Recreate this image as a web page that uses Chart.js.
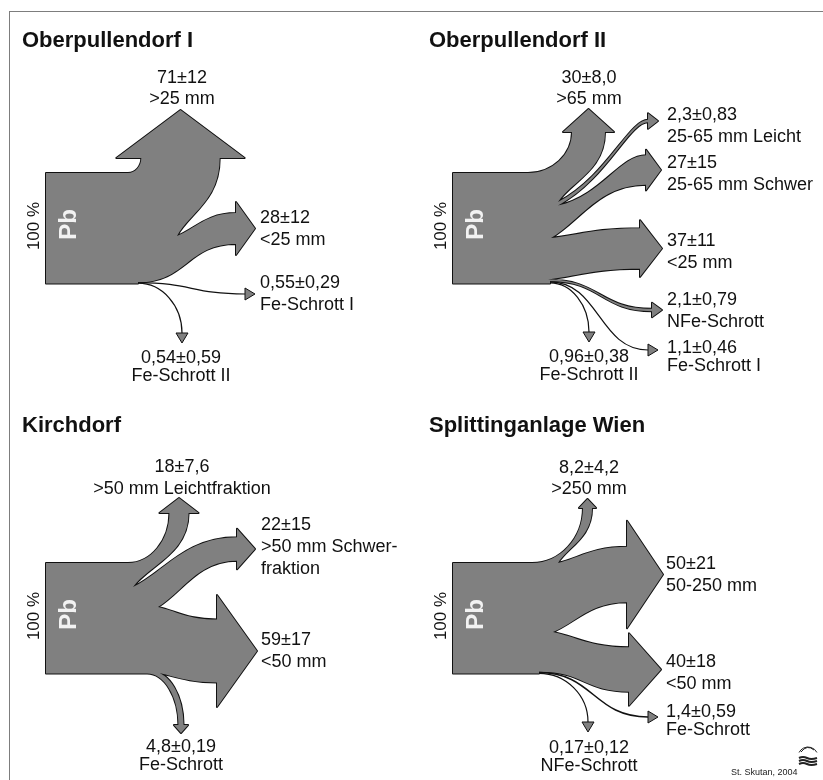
<!DOCTYPE html>
<html>
<head>
<meta charset="utf-8">
<title>Pb-Verteilung auf die Fraktionen</title>
<script src="https://cdn.jsdelivr.net/npm/chart.js@4.4.1/dist/chart.umd.min.js"></script>
<style>
  body { margin: 0; background: #fff; width: 823px; height: 780px; overflow: hidden; position: relative; }
  #frame { position: absolute; left: 9px; top: 11px; right: 0; bottom: 0; border-top: 1px solid #7d7d7d; border-left: 1px solid #7d7d7d; }
  .panel { position: absolute; width: 416px; height: 390px; }
</style>
</head>
<body>
<div id="frame"></div>
<div class="panel" style="left:0;top:0"><canvas id="p1"></canvas></div>
<div class="panel" style="left:407px;top:0"><canvas id="p2"></canvas></div>
<div class="panel" style="left:0;top:390px"><canvas id="p3"></canvas></div>
<div class="panel" style="left:407px;top:390px"><canvas id="p4"></canvas></div>
<script>
// Pb-Anteile (% der Eingangsfracht) je Fraktion, Mittelwert und Schwankung
const panelTitles = ['Oberpullendorf I', 'Oberpullendorf II', 'Kirchdorf', 'Splittinganlage Wien'];

const ober1Fractions = ['>25 mm', '<25 mm', 'Fe-Schrott I', 'Fe-Schrott II'];
const ober1Shares = [71, 28, 0.55, 0.54];
const ober1Errors = [12, 12, 0.29, 0.59];

const ober2Fractions = ['>65 mm', '25-65 mm Leicht', '25-65 mm Schwer', '<25 mm', 'NFe-Schrott', 'Fe-Schrott I', 'Fe-Schrott II'];
const ober2Shares = [30, 2.3, 27, 37, 2.1, 1.1, 0.96];
const ober2Errors = [8.0, 0.83, 15, 11, 0.79, 0.46, 0.38];

const kirchFractions = ['>50 mm Leichtfraktion', '>50 mm Schwer-\nfraktion', '<50 mm', 'Fe-Schrott'];
const kirchShares = [18, 22, 59, 4.8];
const kirchErrors = [7.6, 15, 17, 0.19];

const wienFractions = ['>250 mm', '50-250 mm', '<50 mm', 'Fe-Schrott', 'NFe-Schrott'];
const wienShares = [8.2, 50, 40, 1.4, 0.17];
const wienErrors = [4.2, 21, 18, 0.59, 0.12];

// Layout (Achseneinheiten), nur Lage und Form der Pfeile
const SRC_LEFT = 46, SRC_TOP = 173, SRC_H = 110.5;
const PANEL_W = 416, PANEL_H = 390;
const FILL = '#808080', INK = '#111';
const FONT = '"Liberation Sans", Arial, sans-serif';
const DIRS = { right: [1, 0], up: [0, -1], down: [0, 1] };

const ober1Layout = {
  titleY: 47, sxTop: 128, sxBot: 138, forks: [[177, 236]],
  flows: [
    { dir: 'up', ex: 180.5, ey: 158, ext: 25, hl: 48, lx: 182, ly: 83, align: 'center', gap: 21 },
    { dir: 'right', ex: 236, ey: 228.5, ext: 11, hl: 19, lx: 260, ly: 223, align: 'left', gap: 22 },
    { dir: 'right', ex: 245, ey: 294, ext: 6, hl: 10, lx: 260, ly: 288, align: 'left', gap: 22 },
    { dir: 'down', ex: 182, ey: 333, ext: 6, hl: 10, lx: 181, ly: 363, align: 'center', gap: 18 }
  ]
};
const ober2Layout = {
  titleY: 47, sxTop: 121, sxBot: 143, forks: [[151, 202], [151, 205.5], [144, 238], [141, 279.5]],
  flows: [
    { dir: 'up', ex: 181.5, ey: 132, ext: 9, hl: 23, lx: 182, ly: 83, align: 'center', gap: 21 },
    { dir: 'right', ex: 241, ey: 121, ext: 6.5, hl: 10, top: [0.54, 0.31, 0.21], bot: [0.54, 0.31, 0.21], lx: 260, ly: 120, align: 'left', gap: 22 },
    { dir: 'right', ex: 239, ey: 170, ext: 5.5, hl: 15, top: [0.5, 0.2, 0.3], lx: 260, ly: 168, align: 'left', gap: 22 },
    { dir: 'right', ex: 233, ey: 248.5, ext: 8, hl: 22, lx: 260, ly: 246, align: 'left', gap: 22 },
    { dir: 'right', ex: 245, ey: 310, ext: 6, hl: 10, top: [0.5, 0, 0.5], lx: 260, ly: 305, align: 'left', gap: 22 },
    { dir: 'right', ex: 241, ey: 350, ext: 6, hl: 10, lx: 260, ly: 353, align: 'left', gap: 18 },
    { dir: 'down', ex: 182, ey: 332, ext: 6, hl: 10, lx: 182, ly: 362, align: 'center', gap: 18 }
  ]
};
const kirchLayout = {
  titleY: 42, sxTop: 128, sxBot: 147, forks: [[133, 197], [158, 217], [152, 281.5]],
  flows: [
    { dir: 'up', ex: 179, ey: 123, ext: 10, hl: 15, lx: 182, ly: 82, align: 'center', gap: 21.5 },
    { dir: 'right', ex: 237, ey: 159, ext: 8.5, hl: 18, lx: 261, ly: 140, align: 'left', gap: 22 },
    { dir: 'right', ex: 217, ey: 261, ext: 24.5, hl: 40, lx: 261, ly: 255, align: 'left', gap: 22 },
    { dir: 'down', ex: 181, ey: 335, ext: 4.5, hl: 8, top: [0.55, 0, 0.55], lx: 181, ly: 362, align: 'center', gap: 18 }
  ]
};
const wienLayout = {
  titleY: 42, sxTop: 125, sxBot: 132, forks: [[151, 173], [146, 242]], logo: true,
  flows: [
    { dir: 'up', ex: 180.5, ey: 118, ext: 4, hl: 9, lx: 182, ly: 83, align: 'center', gap: 21 },
    { dir: 'right', ex: 220, ey: 184.5, ext: 26, hl: 36, lx: 259, ly: 179, align: 'left', gap: 22 },
    { dir: 'right', ex: 222, ey: 279.5, ext: 14, hl: 32, lx: 259, ly: 277, align: 'left', gap: 21.5 },
    { dir: 'right', ex: 241, ey: 327, ext: 6, hl: 10, lx: 259, ly: 327, align: 'left', gap: 18 },
    { dir: 'down', ex: 181, ey: 332, ext: 6, hl: 10, lx: 182, ly: 363, align: 'center', gap: 18 }
  ]
};

function fmt(v) { return v.toPrecision(2).replace('.', ','); }

// Kontrollpunkte einer Kante: f = [ax, ay, b]
function ctrl(S, T, d, f) {
  const span = d[0] ? Math.abs(T[0] - S[0]) : Math.abs(T[1] - S[1]);
  return [
    [S[0] + f[0] * (T[0] - S[0]), S[1] + f[1] * (T[1] - S[1])],
    [T[0] - d[0] * f[2] * span, T[1] - d[1] * f[2] * span]
  ];
}

function sankeyPlugin(spec) {
  return {
    id: 'sankey',
    afterDraw(chart) {
      const ctx = chart.ctx, xs = chart.scales.x, ys = chart.scales.y;
      const X = u => xs.getPixelForValue(u), Y = v => ys.getPixelForValue(v);
      const L = spec.layout;
      const total = spec.shares.reduce((a, b) => a + b, 0);
      const widths = spec.shares.map(v => v / total * SRC_H);
      const nRib = widths.filter(w => w >= 2).length;
      const ribBottom = SRC_TOP + widths.slice(0, nRib).reduce((a, b) => a + b, 0);
      const srcBottom = SRC_TOP + SRC_H;

      // alle Flächen in einem Pfad, damit keine Nähte entstehen
      const body = new Path2D();
      const M = q => body.moveTo(X(q[0]), Y(q[1]));
      const Ln = q => body.lineTo(X(q[0]), Y(q[1]));
      const C = (a, b, q) => body.bezierCurveTo(X(a[0]), Y(a[1]), X(b[0]), Y(b[1]), X(q[0]), Y(q[1]));

      M([SRC_LEFT, SRC_TOP]);
      Ln([L.sxTop, SRC_TOP]);
      L.forks.forEach(q => Ln(q));
      Ln([L.sxBot, ribBottom]);
      Ln([L.sxBot, srcBottom]);
      Ln([SRC_LEFT, srcBottom]);
      body.closePath();

      for (let i = 0; i < nRib; i++) {
        const f = L.flows[i], d = DIRS[f.dir], n = [d[1], -d[0]], h = widths[i] / 2;
        const k = d[0] ? 0.5 : 0.55;
        const def = fork => fork ? [0.3, 0.3, k] : [k, 0, k];
        const Tt = [f.ex + n[0] * h, f.ey + n[1] * h];
        const Tb = [f.ex - n[0] * h, f.ey - n[1] * h];
        const topFork = i > 0, botFork = i < nRib - 1;
        const St = topFork ? L.forks[i - 1] : [L.sxTop, SRC_TOP];
        const Sb = botFork ? L.forks[i] : [L.sxBot, ribBottom];
        const [a1, a2] = ctrl(St, Tt, d, f.top || def(topFork));
        const [b1, b2] = ctrl(Sb, Tb, d, f.bot || def(botFork));
        M(St);
        C(a1, a2, Tt);
        Ln([Tt[0] + n[0] * f.ext, Tt[1] + n[1] * f.ext]);
        Ln([f.ex + d[0] * f.hl, f.ey + d[1] * f.hl]);
        Ln([Tb[0] - n[0] * f.ext, Tb[1] - n[1] * f.ext]);
        Ln(Tb);
        C(b2, b1, Sb);
        body.closePath();
      }

      ctx.save();
      ctx.lineJoin = 'round';
      ctx.strokeStyle = INK;
      ctx.lineWidth = 2;
      ctx.stroke(body);
      ctx.fillStyle = FILL;
      ctx.fill(body, 'nonzero');

      // sehr kleine Anteile als Linie mit Pfeilspitze
      let yc = ribBottom;
      for (let i = nRib; i < widths.length; i++) {
        const f = L.flows[i], d = DIRS[f.dir], n = [d[1], -d[0]];
        const k = d[0] ? 0.5 : 0.55;
        const S = [L.sxBot, yc + widths[i] / 2];
        yc += widths[i];
        const E = [f.ex, f.ey];
        const [c1, c2] = ctrl(S, E, d, [k, 0, k]);
        const line = new Path2D();
        line.moveTo(X(S[0]), Y(S[1]));
        line.bezierCurveTo(X(c1[0]), Y(c1[1]), X(c2[0]), Y(c2[1]), X(E[0]), Y(E[1]));
        ctx.lineWidth = Math.max(1.2, Math.abs(Y(widths[i]) - Y(0)));
        ctx.stroke(line);
        const head = new Path2D();
        head.moveTo(X(E[0] + n[0] * f.ext), Y(E[1] + n[1] * f.ext));
        head.lineTo(X(E[0] + d[0] * f.hl), Y(E[1] + d[1] * f.hl));
        head.lineTo(X(E[0] - n[0] * f.ext), Y(E[1] - n[1] * f.ext));
        head.closePath();
        ctx.lineWidth = 1;
        ctx.fill(head);
        ctx.stroke(head);
      }

      // Beschriftung
      ctx.fillStyle = INK;
      ctx.textBaseline = 'alphabetic';
      ctx.font = 'bold 22px ' + FONT;
      ctx.textAlign = 'left';
      ctx.fillText(spec.title, X(22), Y(L.titleY));

      ctx.font = '18px ' + FONT;
      L.flows.forEach((f, i) => {
        const lines = [fmt(spec.shares[i]) + '±' + fmt(spec.errors[i])].concat(spec.fractions[i].split('\n'));
        ctx.textAlign = f.align;
        lines.forEach((t, j) => ctx.fillText(t, X(f.lx), Y(f.ly + j * f.gap)));
      });

      ctx.save();
      ctx.translate(X(34), Y(226));
      ctx.rotate(-Math.PI / 2);
      ctx.textAlign = 'center';
      ctx.textBaseline = 'middle';
      ctx.font = '17px ' + FONT;
      ctx.fillText('100 %', 0, 0);
      ctx.restore();

      ctx.save();
      ctx.translate(X(69.5), Y(224.5));
      ctx.rotate(-Math.PI / 2);
      ctx.textAlign = 'center';
      ctx.textBaseline = 'middle';
      ctx.font = 'bold 24px ' + FONT;
      ctx.fillStyle = '#f2f2f2';
      ctx.fillText('Pb', 0, 0);
      ctx.restore();

      if (L.logo) {
        ctx.font = '9px ' + FONT;
        ctx.textAlign = 'left';
        ctx.fillStyle = '#222';
        ctx.fillText('St. Skutan, 2004', X(324), Y(385));
        ctx.strokeStyle = '#222';
        ctx.lineWidth = 1;
        ctx.beginPath();
        ctx.arc(X(401), Y(367), 10, -0.15 * Math.PI, 1.15 * Math.PI, true);
        ctx.stroke();
        ctx.beginPath();
        ctx.moveTo(X(394), Y(362));
        ctx.quadraticCurveTo(X(400), Y(354), X(407), Y(360));
        ctx.stroke();
        ctx.lineWidth = 2;
        for (let r = 0; r < 3; r++) {
          ctx.beginPath();
          const yy = 368 + r * 3;
          ctx.moveTo(X(392), Y(yy));
          ctx.quadraticCurveTo(X(396), Y(yy - 2), X(400), Y(yy));
          ctx.quadraticCurveTo(X(404), Y(yy + 2), X(410), Y(yy));
          ctx.stroke();
        }
      }
      ctx.restore();
    }
  };
}

function makePanel(id, spec) {
  return new Chart(document.getElementById(id), {
    type: 'scatter',
    data: { datasets: [] },
    options: {
      responsive: true,
      maintainAspectRatio: false,
      animation: false,
      events: [],
      layout: { padding: 0 },
      plugins: { legend: { display: false }, tooltip: { enabled: false }, title: { display: false } },
      scales: {
        x: { type: 'linear', min: 0, max: PANEL_W, display: false },
        y: { type: 'linear', min: 0, max: PANEL_H, reverse: true, display: false }
      }
    },
    plugins: [sankeyPlugin(spec)]
  });
}

makePanel('p1', { title: panelTitles[0], fractions: ober1Fractions, shares: ober1Shares, errors: ober1Errors, layout: ober1Layout });
makePanel('p2', { title: panelTitles[1], fractions: ober2Fractions, shares: ober2Shares, errors: ober2Errors, layout: ober2Layout });
makePanel('p3', { title: panelTitles[2], fractions: kirchFractions, shares: kirchShares, errors: kirchErrors, layout: kirchLayout });
makePanel('p4', { title: panelTitles[3], fractions: wienFractions, shares: wienShares, errors: wienErrors, layout: wienLayout });
</script>
</body>
</html>
